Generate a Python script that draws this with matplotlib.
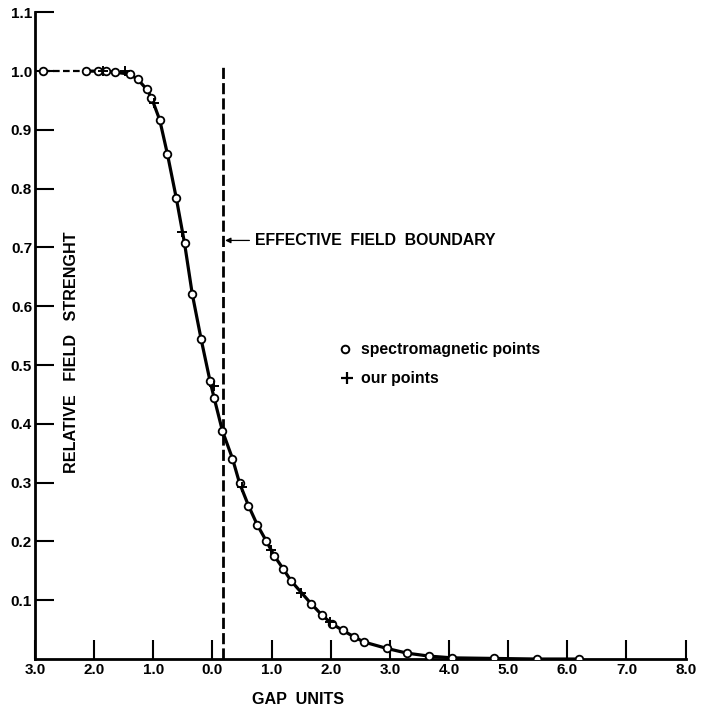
import matplotlib.pyplot as plt
import numpy as np

plt.rcParams['font.family'] = ['Liberation Sans', 'DejaVu Sans']
plt.rcParams['font.weight'] = 'bold'

# spectromagnetic points (circles)
spec_x = [-2.87, -2.14, -1.94, -1.80, -1.64, -1.40, -1.26, -1.11, -1.03, -0.89,
          -0.76, -0.61, -0.47, -0.34, -0.19, -0.04, 0.03, 0.17, 0.34, 0.46,
          0.61, 0.76, 0.91, 1.05, 1.20, 1.33, 1.67, 1.85, 2.02, 2.20,
          2.39, 2.56, 2.95, 3.29, 3.66, 4.05, 4.76, 5.48, 6.20]
spec_y = [1.0, 1.0, 1.0, 1.0, 0.998, 0.995, 0.986, 0.969, 0.955, 0.917,
          0.859, 0.784, 0.707, 0.621, 0.544, 0.473, 0.444, 0.388, 0.341, 0.299,
          0.261, 0.228, 0.201, 0.175, 0.153, 0.133, 0.094, 0.075, 0.060, 0.049,
          0.038, 0.029, 0.018, 0.010, 0.005, 0.002, 0.001, 0.0, 0.0]

# our points (crosses)
our_x = [-1.85, -1.48, -0.98, -0.51, 0.02, 0.50, 0.99, 1.50, 1.99]
our_y = [1.0, 1.0, 0.946, 0.726, 0.464, 0.292, 0.186, 0.112, 0.063]

boundary_x = 0.185
xticks = [-3, -2, -1, 0, 1, 2, 3, 4, 5, 6, 7, 8]
yticks = [0.1, 0.2, 0.3, 0.4, 0.5, 0.6, 0.7, 0.8, 0.9, 1.0, 1.1]

fig = plt.figure(figsize=(7.12, 7.13), dpi=100)
ax = fig.add_axes([0.049, 0.0757, 0.914, 0.907])

# the curve: dashed on the flat top, solid elsewhere
ax.plot(spec_x[:2], spec_y[:2], color='black', lw=1.6, ls=(0, (3, 1.5)), zorder=2)
ax.plot(spec_x[1:], spec_y[1:], color='black', lw=2.3, zorder=2)
ax.plot(spec_x, spec_y, ls='none', marker='o', ms=5.5, mfc='white', mec='black', mew=1.3, zorder=3)
ax.plot(our_x, our_y, ls='none', marker='+', ms=7.5, mec='black', mew=1.4, zorder=4)

# effective field boundary
ax.plot([boundary_x, boundary_x], [0, 1.007], color='black', lw=2, ls=(0, (4, 1.5)), zorder=1)
ax.annotate('EFFECTIVE  FIELD  BOUNDARY', xy=(boundary_x + 0.03, 0.712), xytext=(0.72, 0.712),
            fontsize=11.4, fontweight='bold', va='center', ha='left',
            arrowprops=dict(arrowstyle='-|>', color='black', lw=0.9, mutation_scale=8,
                            shrinkA=2, shrinkB=0))

# legend as text
ax.plot([2.24], [0.527], ls='none', marker='o', ms=5.5, mfc='white', mec='black', mew=1.4)
ax.text(2.52, 0.527, 'spectromagnetic points', fontsize=11.4, fontweight='bold', va='center')
ax.plot([2.27], [0.478], ls='none', marker='+', ms=8.5, mec='black', mew=1.6)
ax.text(2.52, 0.478, 'our points', fontsize=11.4, fontweight='bold', va='center')

ax.set_xlim(-3, 8)
ax.set_ylim(0, 1.1)
ax.set_xticks(xticks)
ax.set_xticklabels(['%.1f' % abs(v) for v in xticks], fontsize=11, fontweight='bold')
ax.set_yticks(yticks)
ax.set_yticklabels(['%.1f' % v for v in yticks], fontsize=11, fontweight='bold')
ax.tick_params(axis='both', direction='in', length=14, width=1.5, pad=3)
ax.tick_params(axis='y', pad=2)

for s in ['top', 'right']:
    ax.spines[s].set_visible(False)
for s in ['left', 'bottom']:
    ax.spines[s].set_linewidth(2)

fig.text(72 / 712, 0.506, 'RELATIVE   FIELD   STRENGHT', rotation=90, fontsize=11.6,
         fontweight='bold', ha='center', va='center')
fig.text(298 / 712, 1 - 700 / 713, 'GAP  UNITS', fontsize=11.6, fontweight='bold',
         ha='center', va='center')

fig.savefig('out.png', dpi=100)
